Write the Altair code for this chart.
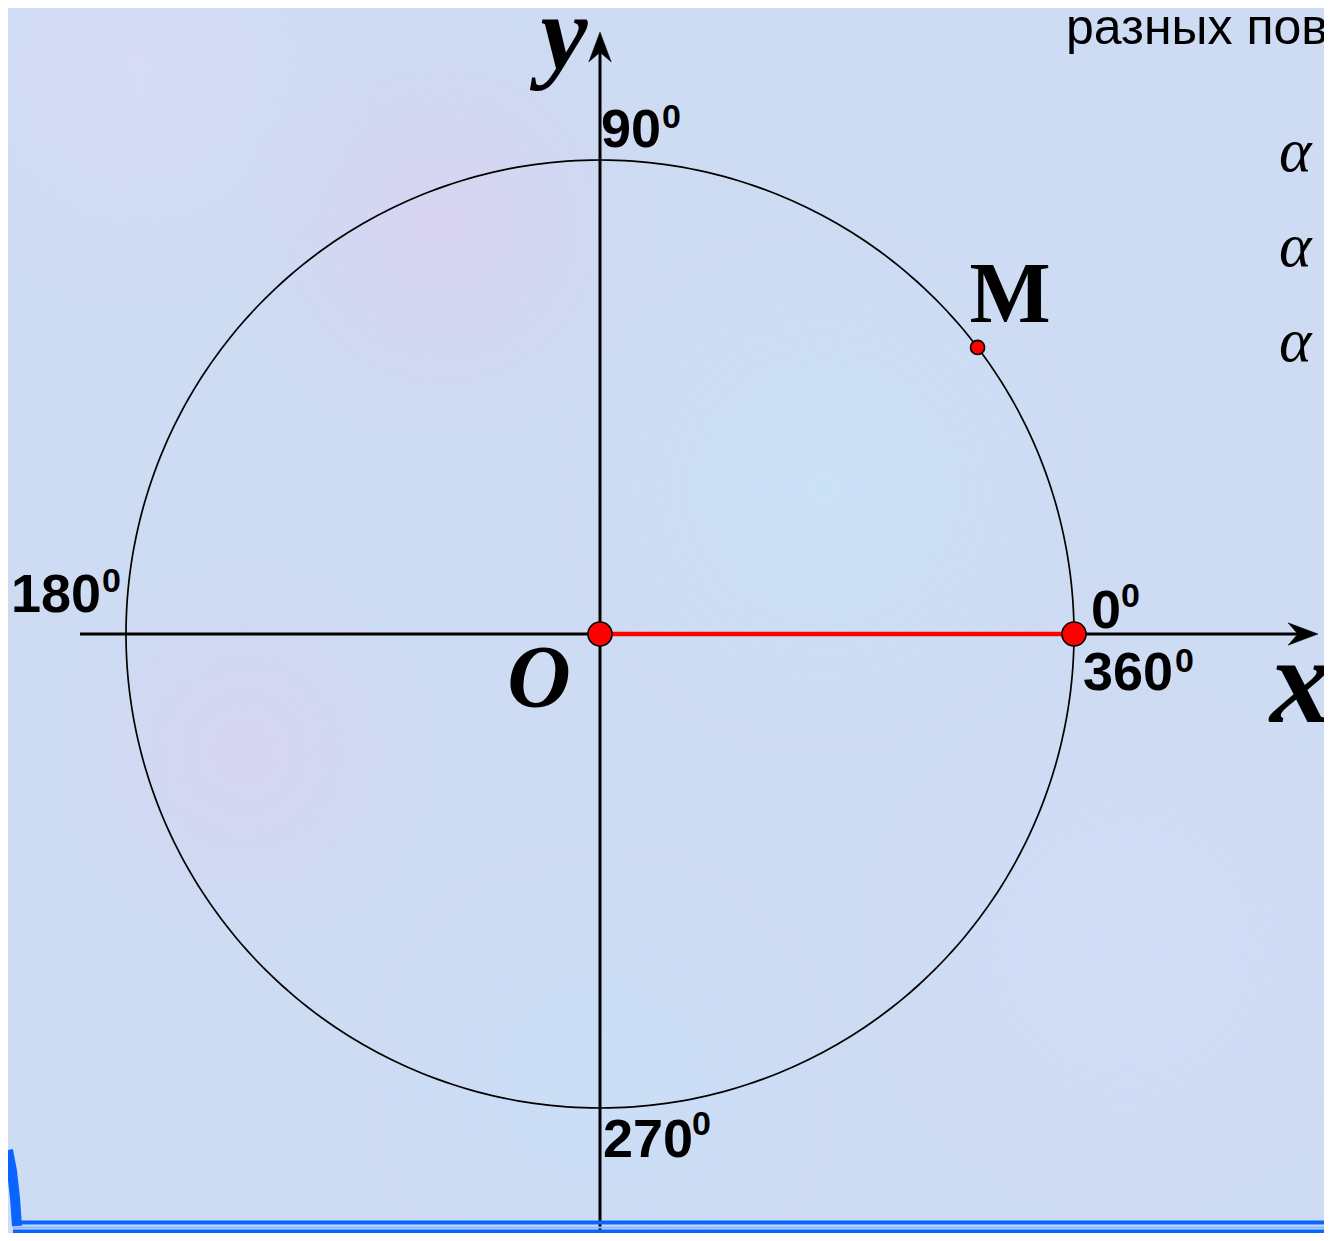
import altair as alt
import pandas as pd
import numpy as np

# ---------------- data ----------------
degree_labels = ["90", "180", "0", "360", "270"]
degree_angles = [90, 180, 0, 0, 270]
sup_text = "0"
m_name = "M"
m_angle = 37.2
origin_name = "O"
axis_letters = ["x", "y"]
side_text = "разных пов"
alpha_marks = ["α", "α", "α"]

# ---------------- layout ----------------
W, H = 1316, 1225
PX = 474.0            # pixels per unit radius
CX, CY = 592.0, 626.0 # centre of the circle in chart pixels
x_dom = [-CX / PX, (W - CX) / PX]
y_dom = [-(H - CY) / PX, CY / PX]
xs = alt.Scale(domain=x_dom, nice=False, zero=False)
ys = alt.Scale(domain=y_dom, nice=False, zero=False)
X = lambda f="x": alt.X(f"{f}:Q", scale=xs, axis=None)
Y = lambda f="y": alt.Y(f"{f}:Q", scale=ys, axis=None)
PXX = lambda f="px": alt.X(f"{f}:Q", scale=None, axis=None)
PXY = lambda f="py": alt.Y(f"{f}:Q", scale=None, axis=None)

BG = "#cddbf3"
SANS = "Liberation Sans"
SERIF = "Liberation Serif"

# soft background blotches
def blob(cx, cy, r, col):
    return alt.Chart(pd.DataFrame({"a": [0]})).mark_rect(
        fill=alt.RadialGradient(
            gradient="radial", x1=cx, y1=cy, x2=cx, y2=cy, r1=0, r2=r,
            stops=[alt.GradientStop(color=col, offset=0),
                   alt.GradientStop(color=col.replace("0.55)", "0)"), offset=1)])
    ).encode(x=alt.value(0), x2=alt.value(W), y=alt.value(0), y2=alt.value(H))

blobs = [
    blob(0.33, 0.20, 0.16, "rgba(225,205,240,0.55)"),
    blob(0.10, 0.08, 0.18, "rgba(222,220,250,0.55)"),
    blob(0.18, 0.60, 0.14, "rgba(222,208,242,0.55)"),
    blob(0.62, 0.40, 0.20, "rgba(200,230,250,0.55)"),
    blob(0.85, 0.75, 0.20, "rgba(215,222,250,0.55)"),
    blob(0.45, 0.85, 0.18, "rgba(198,225,248,0.55)"),
]

# unit circle
t = np.arange(0, 361, 1)
circle = pd.DataFrame({"x": np.cos(np.radians(t)), "y": np.sin(np.radians(t)), "i": t})
circle_l = alt.Chart(circle).mark_line(color="black", strokeWidth=1.7).encode(
    x=X(), y=Y(), order="i:Q")

# coordinate axes
x_tip = (1318 - 600) / PX
y_tip = (634 - 32) / PX
axes = pd.DataFrame({
    "x": [-520 / PX, 0.0], "x2": [x_tip - 16 / PX, 0.0],
    "y": [0.0, y_dom[0] - 0.05], "y2": [0.0, y_tip - 16 / PX]})
axes_l = alt.Chart(axes).mark_rule(color="black", strokeWidth=3).encode(
    x=X(), x2="x2:Q", y=Y(), y2="y2:Q")

ARROW_R = "M 1 0 L -1 -0.75 L -0.35 0 L -1 0.75 Z"
ARROW_U = "M 0 -1 L -0.75 1 L 0 0.35 L 0.75 1 Z"
arr = pd.DataFrame({"x": [x_tip - 15 / PX, 0.0], "y": [0.0, y_tip - 15 / PX]})
arr_r = alt.Chart(arr.iloc[[0]]).mark_point(shape=ARROW_R, filled=True, fill="black",
                                            stroke="black", strokeWidth=0.5, opacity=1,
                                            size=900).encode(x=X(), y=Y())
arr_u = alt.Chart(arr.iloc[[1]]).mark_point(shape=ARROW_U, filled=True, fill="black",
                                            stroke="black", strokeWidth=0.5, opacity=1,
                                            size=900).encode(x=X(), y=Y())

# red radius O -> 0°
radius = pd.DataFrame({"x": [0.0], "x2": [1.0], "y": [0.0], "y2": [0.0]})
radius_l = alt.Chart(radius).mark_rule(color="#ff0000", strokeWidth=4.5).encode(
    x=X(), x2="x2:Q", y=Y(), y2="y2:Q")

# points
pts = pd.DataFrame({
    "x": [0.0, 1.0, np.cos(np.radians(m_angle))],
    "y": [0.0, 0.0, np.sin(np.radians(m_angle))],
    "sz": [580, 580, 200]})
pts_l = alt.Chart(pts).mark_point(shape="circle", filled=True, fill="#ff0000",
                                  stroke="black", strokeWidth=1.6, opacity=1).encode(
    x=X(), y=Y(), size=alt.Size("sz:Q", scale=None, legend=None))

# degree labels (offsets in px: main dx, dy ; superscript dx, dy)
main_off = {"90": (1, -13), "180": (-115, -22), "0": (17, -6), "360": (9, 56), "270": (3, 49)}
sup_off = {"90": (62, -32), "180": (-24, -42), "0": (47, -27), "360": (101, 38), "270": (92, 27)}
rows_m, rows_s = [], []
for lab, a in zip(degree_labels, degree_angles):
    ax, ay = np.cos(np.radians(a)), np.sin(np.radians(a))
    dx, dy = main_off[lab]
    rows_m.append({"t": lab, "x": ax + dx / PX, "y": ay - dy / PX})
    dx, dy = sup_off[lab]
    rows_s.append({"t": sup_text, "x": ax + dx / PX, "y": ay - dy / PX})
deg_main = alt.Chart(pd.DataFrame(rows_m)).mark_text(
    font=SANS, fontWeight="bold", fontSize=54, align="left", baseline="alphabetic",
    color="black").encode(x=X(), y=Y(), text="t:N")
deg_sup = alt.Chart(pd.DataFrame(rows_s)).mark_text(
    font=SANS, fontWeight="bold", fontSize=34, align="left", baseline="alphabetic",
    color="black").encode(x=X(), y=Y(), text="t:N")

# serif letters: x, y, O (bold italic)
mx, my = np.cos(np.radians(m_angle)), np.sin(np.radians(m_angle))
letters = pd.DataFrame([
    {"t": axis_letters[0], "x": x_tip + (-48) / PX, "y": 0 - 88 / PX, "fs": 122},
    {"t": axis_letters[1], "x": 0 + (-36) / PX, "y": y_tip - 36 / PX, "fs": 106},
    {"t": origin_name, "x": 0 + (-61) / PX, "y": 0 - 72 / PX, "fs": 88},
])
letters_x = alt.Chart(letters.iloc[[0]]).mark_text(
    font=SERIF, fontWeight="bold", fontStyle="italic", align="left",
    baseline="alphabetic", color="black", fontSize=122).encode(x=X(), y=Y(), text="t:N")
letters_l = alt.Chart(letters.iloc[1:]).mark_text(
    font=SERIF, fontWeight="bold", fontStyle="italic", align="center",
    baseline="alphabetic", color="black").encode(
    x=X(), y=Y(), text="t:N", size=alt.Size("fs:Q", scale=None, legend=None))

m_lab = pd.DataFrame({"t": [m_name], "x": [mx - 8 / PX], "y": [my + 25 / PX]})
m_l = alt.Chart(m_lab).mark_text(font=SERIF, fontWeight="bold", fontSize=86, align="left",
                                 baseline="alphabetic", color="black").encode(
    x=X(), y=Y(), text="t:N")

# right side text (cut off slide text)
side = pd.DataFrame({"t": [side_text], "px": [1058], "py": [36]})
side_l = alt.Chart(side).mark_text(font=SANS, fontSize=50, align="left",
                                   baseline="alphabetic", color="black").encode(
    x=PXX(), y=PXY(), text="t:N")
alph = pd.DataFrame({"t": alpha_marks, "px": [1271] * 3, "py": [163, 258, 353]})
alph_l = alt.Chart(alph).mark_text(font=SERIF, fontStyle="italic", fontSize=62,
                                   align="left", baseline="alphabetic",
                                   color="black").encode(x=PXX(), y=PXY(), text="t:N")

# bottom decoration
bands = pd.DataFrame({"px": [10, 5, 5], "px2": [W, W, W], "py": [1214.5, 1219.5, 1223.5],
                      "w": [4, 2, 4], "c": ["#0a64ff", "#8ab8ff", "#0a64ff"]})
bands_l = alt.Chart(bands).mark_rule().encode(
    x=PXX(), x2="px2:Q", y=PXY(),
    strokeWidth=alt.StrokeWidth("w:Q", scale=None, legend=None),
    color=alt.Color("c:N", scale=None, legend=None))
curve = pd.DataFrame({"px": [0, 4, 7, 9], "py": [1142, 1163, 1190, 1218], "i": [0, 1, 2, 3]})
curve_l = alt.Chart(curve).mark_line(color="#0a64ff", strokeWidth=10, strokeCap="butt").encode(
    x=PXX(), y=PXY(), order="i:Q")

chart = alt.layer(
    *blobs,
    circle_l, axes_l, arr_r, arr_u, radius_l, pts_l,
    deg_main, deg_sup, letters_x, letters_l, m_l, side_l, alph_l, bands_l, curve_l
).properties(
    width=W, height=H, autosize=alt.AutoSizeParams(type="none"), padding=0,
    background=BG
).configure_view(stroke=None)

chart.save("out.html", embed_options={"renderer": "svg", "actions": False})
